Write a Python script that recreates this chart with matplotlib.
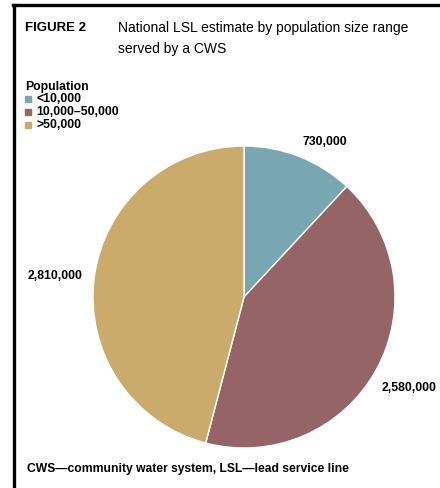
import matplotlib.pyplot as plt
import numpy as np

plt.rcParams['font.family'] = ['Liberation Sans', 'DejaVu Sans']

# donnees
categories = ["<10,000", "10,000\u201350,000", ">50,000"]
valeurs = [730000, 2580000, 2810000]
couleurs = ["#79a7b1", "#956467", "#cbab6b"]
etiquettes = ["730,000", "2,580,000", "2,810,000"]

fig = plt.figure(figsize=(4.4, 4.88), dpi=100)
W, H = 440, 488

# cadre (haut et gauche)
fig.add_artist(plt.Line2D([14 / W, 14 / W], [0, 1 - 5 / H], color="black", lw=2.4, transform=fig.transFigure))
fig.add_artist(plt.Line2D([13 / W, 1], [1 - 5 / H, 1 - 5 / H], color="black", lw=2.4, transform=fig.transFigure))

# titre
fig.text(25 / W, 1 - 28 / H, "FIGURE 2", fontsize=9.5, fontweight="bold", va="center")
fig.text(118 / W, 1 - 28 / H, "National LSL estimate by population size range", fontsize=10, va="center")
fig.text(118 / W, 1 - 49 / H, "served by a CWS", fontsize=10, va="center")

# legende
fig.text(25 / W, 1 - 87 / H, "Population", fontsize=8.8, fontweight="bold", va="center")
for i, (cat, c) in enumerate(zip(categories, couleurs)):
    y = 99 + i * 13
    fig.patches.append(plt.Rectangle((25 / W, 1 - (y + 3) / H), 6 / W, 6 / H, color=c, transform=fig.transFigure))
    fig.text(36 / W, 1 - y / H, cat, fontsize=8.8, fontweight="bold", va="center")

# camembert
R = 151
cx, cy = 244, 297
ax = fig.add_axes([(cx - R) / W, 1 - (cy + R) / H, 2 * R / W, 2 * R / H])
wedges, _ = ax.pie(valeurs, colors=couleurs, startangle=90, counterclock=False,
                   wedgeprops=dict(edgecolor="white", linewidth=1))
ax.set_xlim(-1, 1)
ax.set_ylim(-1, 1)
ax.set_aspect("equal")

dist = [1.16, 1.25, 1.26]
decal = [-6, 0, 1]
for w, lab, d, a in zip(wedges, etiquettes, dist, decal):
    ang = np.deg2rad((w.theta1 + w.theta2) / 2 + a)
    ax.text(d * np.cos(ang), d * np.sin(ang), lab, fontsize=8.8, fontweight="bold",
            ha="center", va="center", clip_on=False)

# note
fig.text(27 / W, 1 - 469 / H, "CWS\u2014community water system, LSL\u2014lead service line",
         fontsize=8.7, fontweight="bold", va="center")

fig.savefig("out.png", dpi=100)
